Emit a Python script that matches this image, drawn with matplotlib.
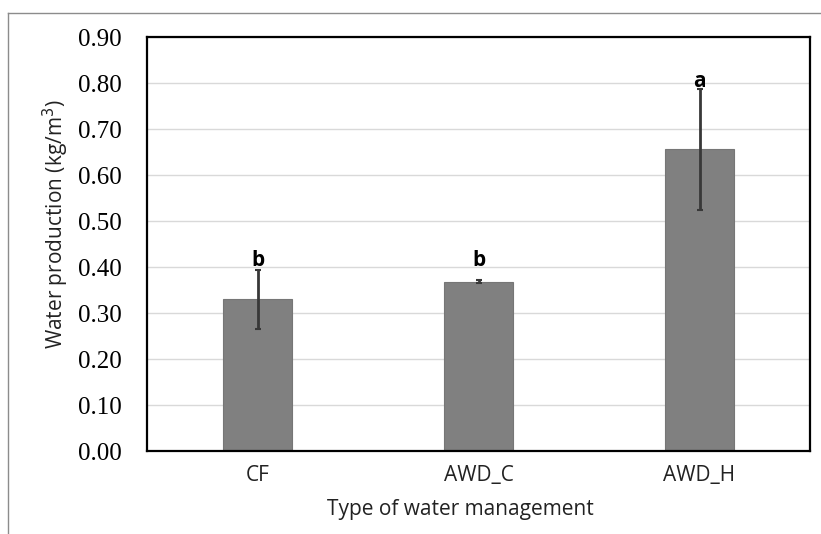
import matplotlib
matplotlib.use("Agg")
import matplotlib.pyplot as plt
from matplotlib.lines import Line2D

categories = ["CF", "AWD_C", "AWD_H"]
values = [0.33, 0.368, 0.656]
errors = [0.064, 0.003, 0.131]
letters = ["b", "b", "a"]
letter_y = [0.402, 0.402, 0.791]
yticks = [0.0, 0.1, 0.2, 0.3, 0.4, 0.5, 0.6, 0.7, 0.8, 0.9]

fig = plt.figure(figsize=(8.21, 5.34), dpi=100)
ax = fig.add_axes([147 / 821, 1 - 451 / 534, 663 / 821, 414 / 534])

x = range(len(categories))
ax.bar(x, values, width=0.31, color="#808080", edgecolor="#767676", linewidth=0.8, zorder=2)
ax.errorbar(x, values, yerr=errors, fmt="none", ecolor="#383838", elinewidth=2,
            capsize=2, capthick=1.5, zorder=3)

for i, (ly, l) in enumerate(zip(letter_y, letters)):
    ax.text(i, ly, l, ha="center", va="baseline", fontsize=15,
            fontweight="bold", family="Open Sans", zorder=4)

ax.set_xlim(-0.5, 2.5)
ax.set_ylim(0, 0.9)
ax.set_yticks(yticks)
ax.set_yticklabels([f"{t:.2f}" for t in yticks], family="Liberation Serif", fontsize=18)
ax.set_xticks(list(x))
ax.set_xticklabels(categories, family="Open Sans", fontsize=15, color="#222222")
ax.tick_params(axis="both", length=0)
ax.tick_params(axis="y", pad=18)
ax.tick_params(axis="x", pad=10)
ax.yaxis.grid(True, color="#d9d9d9", linewidth=1, zorder=0)
ax.set_axisbelow(True)
for s in ax.spines.values():
    s.set_linewidth(1.6)
    s.set_color("black")

fig.text(56 / 821, 1 - 224 / 534, "Water production (kg/m$^3$)", family="Open Sans",
         fontsize=15, color="#222222", rotation=90, ha="center", va="center")
fig.text(460 / 821, 1 - 509 / 534, "Type of water management", family="Open Sans",
         fontsize=15, color="#222222", ha="center", va="center")

# outer chart frame (top and left edges visible)
fig.add_artist(Line2D([8 / 821, 1], [1 - 12.5 / 534, 1 - 12.5 / 534], color="#8c8c8c", linewidth=1))
fig.add_artist(Line2D([8 / 821, 8 / 821], [0, 1 - 12.5 / 534], color="#8c8c8c", linewidth=1))

fig.savefig("out.png", dpi=100)
